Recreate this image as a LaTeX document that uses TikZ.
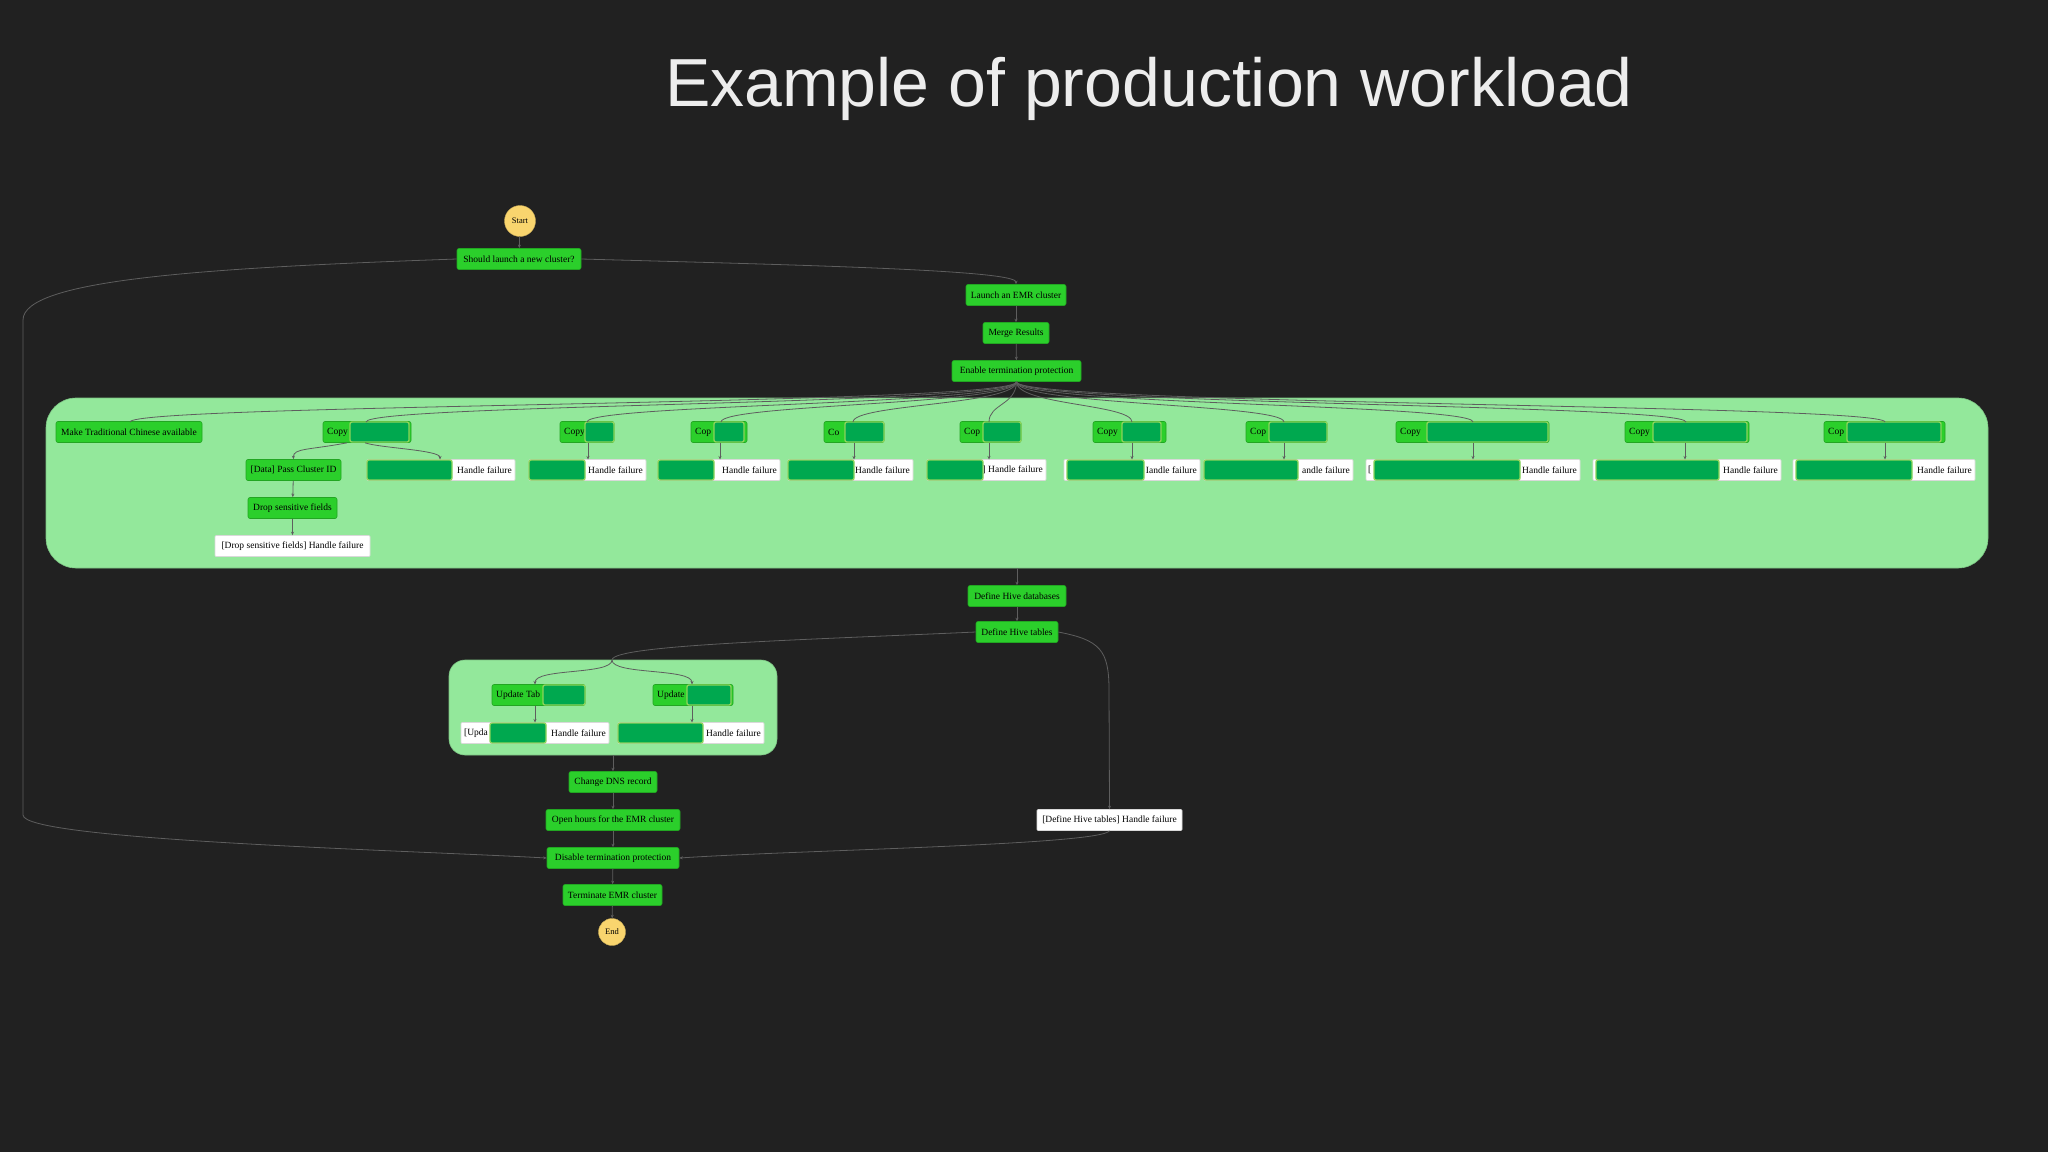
\documentclass[tikz,border=0pt]{standalone}
\usepackage{fontspec}
\setmainfont{Liberation Serif}
\newfontfamily\titlefont{Liberation Sans}
\usetikzlibrary{arrows.meta}
\definecolor{bg}{HTML}{212121}
\definecolor{gnode}{HTML}{2BCF2B}
\definecolor{gdark}{HTML}{00A84F}
\definecolor{gedge}{HTML}{8CD45A}
\definecolor{grp}{HTML}{93E89B}
\definecolor{startc}{HTML}{F9D56E}
\definecolor{lne}{HTML}{5E5E5E}
\tikzset{
  gbox/.style={fill=gnode, draw=gnode!80!black, line width=0.6pt, rounded corners=2pt, minimum height=21pt, inner sep=1pt, font=\fontsize{9.5}{10}\selectfont, text=black},
  wbox/.style={fill=white, draw=white!85!black, line width=0.6pt, rounded corners=1pt, minimum height=21pt, inner sep=1pt, font=\fontsize{9.5}{10}\selectfont, text=black},
  ovl/.style={fill=gdark, draw=gedge, line width=1.4pt, rounded corners=2pt},
  lbl/.style={inner sep=0pt, font=\fontsize{9.5}{10}\selectfont, text=black},
  circ/.style={circle, fill=startc, draw=startc!80!black, inner sep=0pt, font=\fontsize{8.5}{9}\selectfont, text=black},
  grpbox/.style={fill=grp, draw=grp!85!black, rounded corners=30pt, line width=0.6pt},
  conn/.style={draw=lne, line width=0.8pt, -{Stealth[length=3.5pt,width=3pt]}},
  connp/.style={draw=lne, line width=0.8pt}
}
% #1 name, #2 style, #3 xl, #4 xr, #5 y
\newcommand{\basebox}[5]{\node[#2, minimum width={#4-#3}] (#1) at ({(#3+#4)/2},#5) {};}
\newcommand{\ovr}[3]{\draw[ovl] (#1,{#3-10}) rectangle (#2,{#3+10});}
\begin{document}
\begin{tikzpicture}[x=1pt,y=-1pt]
\fill[bg] (0,0) rectangle (2048,1152);
\useasboundingbox (0,0) rectangle (2048,1152);
\node[text=white!93!black, font=\titlefont\fontsize{68}{76}\selectfont] (title) at (1149,89) {Example of production workload};

% groups
\node[grpbox, minimum width=1942pt, minimum height=170pt] (g1) at (1017,483) {};
\node[grpbox, rounded corners=16pt, minimum width=328pt, minimum height=95pt] (g2) at (613,707.5) {};

% top chain
\node[circ, minimum size=31pt] (start) at (520,221) {Start};
\basebox{should}{gbox}{457}{581}{259}\node[lbl] at (should) {Should launch a new cluster?};
\basebox{launch}{gbox}{966}{1066}{295}\node[lbl] at (launch) {Launch an EMR cluster};
\basebox{merge}{gbox}{983}{1049}{333}\node[lbl] at (merge) {Merge Results};
\basebox{enable}{gbox}{952}{1081}{371}\node[lbl] at (enable) {Enable termination protection};

% row 1
\basebox{make}{gbox}{56}{202}{432}\node[lbl] at (make) {Make Traditional Chinese available};
\foreach \n/\a/\b/\oa/\ob/\t in {c1/323/411/350/409/Copy, c2/560/614/585/614/Copy, c3/691/747/714/744/Cop, c4/824/884/845/884/Co, c5/960/1021/983/1021/Cop, c6/1093/1166/1122/1161/Copy, c7/1246/1327/1269/1327/Cop, c8/1396/1549/1427/1548/Copy, c9/1625/1749/1653/1747/Copy, c10/1824/1945/1847/1941/Cop}{
  \basebox{\n}{gbox}{\a}{\b}{432}
  \node[lbl, anchor=west] at (\a+4,432) {\t};
  \ovr{\oa}{\ob}{432}
}
% row 2
\foreach \n/\a/\b/\oa/\ob/\t in {w1/367/515/367/452/Handle failure, w2/529/646/529/585/Handle failure, w3/658/780/658/714/Handle failure, w4/788/913/788/854/Handle failure, w5/927/1046/927/983/{] Handle failure}, w6/1064/1200/1067/1144/Iandle failure, w7/1204/1353/1204/1298/andle failure, w8/1366/1580/1374/1520/Handle failure, w9/1593/1781/1596/1719/Handle failure, w10/1793/1975/1796/1912/Handle failure}{
  \basebox{\n}{wbox}{\a}{\b}{470}
  \node[lbl, anchor=east] at (\b-3,470) {\t};
  \ovr{\oa}{\ob}{470}
}
\node[lbl, anchor=west] at (1368,470) {[};
\basebox{pass}{gbox}{246}{341}{470}\node[lbl] at (pass) {[Data] Pass Cluster ID};
\basebox{drop}{gbox}{248}{337}{508}\node[lbl] at (drop) {Drop sensitive fields};
\basebox{drophf}{wbox}{215}{370}{546}\node[lbl] at (drophf) {[Drop sensitive fields] Handle failure};

% middle
\basebox{hdb}{gbox}{968}{1066}{596}\node[lbl] at (hdb) {Define Hive databases};
\basebox{htab}{gbox}{976}{1058}{632}\node[lbl] at (htab) {Define Hive tables};
\basebox{hf}{wbox}{1037}{1182}{820}\node[lbl] at (hf) {[Define Hive tables] Handle failure};

% group 2
\basebox{u1}{gbox}{492}{585}{695}\node[lbl, anchor=west] at (496,695) {Update Tab};\ovr{543}{585}{695}
\basebox{u2}{gbox}{653}{733}{695}\node[lbl, anchor=west] at (657,695) {Update};\ovr{687}{731}{695}
\basebox{uw1}{wbox}{461}{609}{733}\node[lbl, anchor=west] at (464,733) {[Upda};\node[lbl, anchor=east] at (606,733) {Handle failure};\ovr{490}{546}{733}
\basebox{uw2}{wbox}{618}{764}{733}\node[lbl, anchor=east] at (761,733) {Handle failure};\ovr{618}{703}{733}

% bottom chain
\basebox{dns}{gbox}{569}{657}{782}\node[lbl] at (dns) {Change DNS record};
\basebox{open}{gbox}{546}{680}{820}\node[lbl] at (open) {Open hours for the EMR cluster};
\basebox{disable}{gbox}{547}{679}{858}\node[lbl] at (disable) {Disable termination protection};
\basebox{term}{gbox}{563}{662}{895}\node[lbl] at (term) {Terminate EMR cluster};
\node[circ, minimum size=27pt] (end) at (612,932) {End};

% connectors
\draw[conn] (start) -- (should);
\draw[conn] (should.east) .. controls (800,265) and (1016,270) .. (launch.north);
\draw[conn] (should.west) .. controls (200,268) and (23,280) .. (23,320) -- (23,815) .. controls (23,840) and (400,850) .. (disable.west);
\draw[conn] (launch) -- (merge);
\draw[conn] (merge) -- (enable);
\foreach \t/\x in {make/130, c1/366, c2/587, c3/721, c4/853, c5/989, c6/1132, c7/1284, c8/1473, c9/1686, c10/1885}{
  \draw[connp] (enable.south) .. controls (1016,405) and (\x,404) .. (\x,422);
}
\draw[conn] ([xshift=-20pt]c1.south) .. controls (310,450) and (293,448) .. (pass.north);
\draw[conn] ([xshift=-2pt]c1.south) .. controls (380,448) and (440,450) .. (440,459.5);
\foreach \c/\w/\x in {c2/w2/588, c3/w3/720, c4/w4/854, c5/w5/989, c6/w6/1132, c7/w7/1284, c8/w8/1473, c9/w9/1685, c10/w10/1885}{
  \draw[conn] (\x,442.5) -- (\x,459.5);
}
\draw[conn] (pass) -- (drop);
\draw[conn] (drop) -- (drophf);
\draw[conn] (g1.south -| hdb) -- (hdb);
\draw[conn] (hdb) -- (htab);
\draw[connp] (htab.west) .. controls (800,640) and (612,645) .. (612,660);
\draw[conn] (612,660) .. controls (612,675) and (535,668) .. (535,684.5);
\draw[conn] (612,660) .. controls (612,675) and (692,668) .. (692,684.5);
\draw[conn] (535,705.5) -- (535,722.5);
\draw[conn] (692,705.5) -- (692,722.5);
\draw[conn] (htab.east) .. controls (1100,640) and (1109,650) .. (1109,690) -- (hf.north);
\draw[conn] (hf.south) .. controls (1100,845) and (800,850) .. (disable.east);
\draw[conn] (g2.south -| dns) -- (dns);
\draw[conn] (dns) -- (open);
\draw[conn] (open) -- (disable);
\draw[conn] (disable) -- (term);
\draw[conn] (term) -- (end);
\end{tikzpicture}
\end{document}
